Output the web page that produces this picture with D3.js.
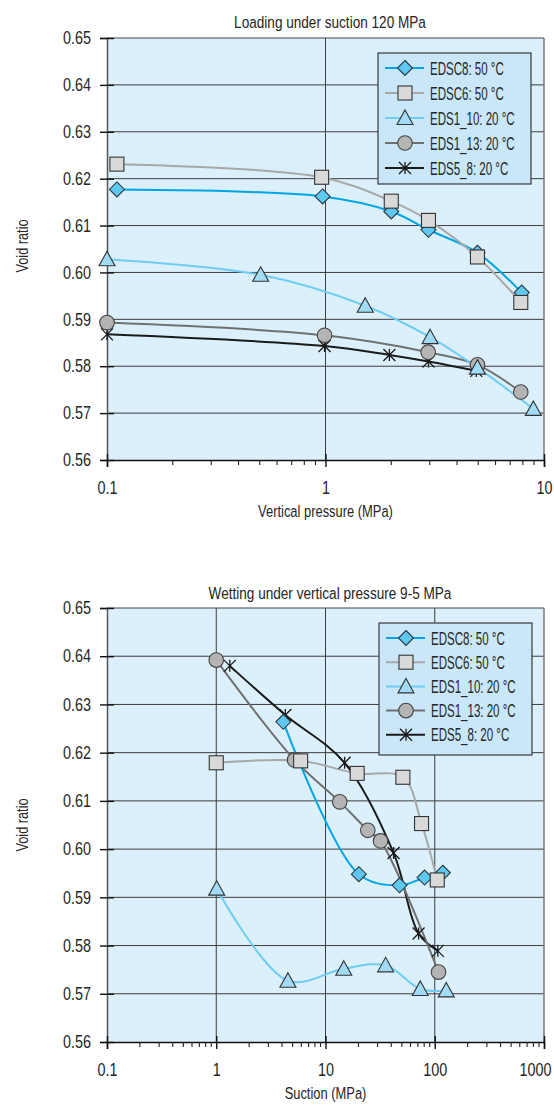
<!DOCTYPE html>
<html>
<head>
<meta charset="utf-8">
<script src="https://cdn.jsdelivr.net/npm/d3@7"></script>
<style>
  body { margin: 0; background: #fff; }
  svg { display: block; font-family: "Liberation Sans", Arimo, Arial, sans-serif; }
</style>
</head>
<body>
<svg id="chart" width="554" height="1108"></svg>
<script>
// ---- data ----
const seriesNames = ['EDSC8: 50 °C', 'EDSC6: 50 °C', 'EDS1_10: 20 °C', 'EDS1_13: 20 °C', 'EDS5_8: 20 °C'];
const yTicks = [0.56, 0.57, 0.58, 0.59, 0.60, 0.61, 0.62, 0.63, 0.64, 0.65];

// loading under suction 120 MPa (x = vertical pressure, MPa)
const loadEDSC8_p = [0.111, 0.97, 2.0, 2.96, 4.96, 7.91];
const loadEDSC8_e = [0.6177, 0.6162, 0.6130, 0.6091, 0.6042, 0.5957];
const loadEDSC6_p = [0.111, 0.96, 2.0, 2.96, 4.96, 7.83];
const loadEDSC6_e = [0.6231, 0.6203, 0.6152, 0.6111, 0.6033, 0.5936];
const loadEDS1_10_p = [0.1, 0.505, 1.52, 3.01, 4.96, 8.94];
const loadEDS1_10_e = [0.6028, 0.5995, 0.5929, 0.5862, 0.5797, 0.5709];
const loadEDS1_13_p = [0.1, 0.99, 2.95, 4.96, 7.83];
const loadEDS1_13_e = [0.5893, 0.5866, 0.5830, 0.5803, 0.5745];
const loadEDS5_8_p = [0.1, 0.99, 1.96, 2.96, 4.9];
const loadEDS5_8_e = [0.5868, 0.5843, 0.5824, 0.5810, 0.5790];
const loadXTicks = ['0.1', '1', '10'];

// wetting under vertical pressure 9-5 MPa (x = suction, MPa)
const wetEDSC8_s = [4.11, 20.2, 47.6, 80.7, 118.6];
const wetEDSC8_e = [0.6264, 0.5948, 0.5925, 0.5941, 0.5951];
const wetEDSC6_s = [1.0, 5.92, 19.5, 51.1, 75.7, 105.4];
const wetEDSC6_e = [0.6179, 0.6183, 0.6157, 0.6149, 0.6053, 0.5936];
const wetEDS1_10_s = [1.01, 4.53, 14.7, 35.5, 73.7, 127.4];
const wetEDS1_10_e = [0.5918, 0.5727, 0.5752, 0.5759, 0.5710, 0.5707];
const wetEDS1_13_s = [1.0, 5.21, 13.5, 24.4, 31.9, 108.3];
const wetEDS1_13_e = [0.6392, 0.6185, 0.6098, 0.6039, 0.6017, 0.5745];
const wetEDS5_8_s = [1.33, 4.29, 14.96, 42, 71.1, 106.7];
const wetEDS5_8_e = [0.6380, 0.6278, 0.6179, 0.5992, 0.5825, 0.5789];
const wetXTicks = ['0.1', '1', '10', '100', '1000'];

// ---- styles ----
const styles = [
  { line: '#00a6e6', fill: '#5fc8f0', marker: 'diamond' },
  { line: '#a8a8a8', fill: '#d9d9d9', marker: 'square' },
  { line: '#6dcdf2', fill: '#a2dbf5', marker: 'triangle' },
  { line: '#707070', fill: '#b4b4b4', marker: 'circle' },
  { line: '#1a1a1a', fill: 'none', marker: 'star' },
];
const drawOrder = [4, 3, 2, 0, 1]; // which series ends up on top
const textColor = '#262626';

const svg = d3.select('#chart');

function zip(xs, ys) { return xs.map((x, i) => ({ x, y: ys[i] })); }

// no condensed face installed, so squeeze a normal one horizontally
function narrowText(parent, x, y, str, size, sx, anchor, rotate) {
  const t = parent.append('g')
    .attr('transform', `translate(${x},${y})${rotate ? ' rotate(' + rotate + ')' : ''} scale(${sx},1)`);
  t.append('text').attr('text-anchor', anchor || 'start')
    .attr('font-size', size).attr('fill', textColor).text(str);
  return t;
}

function drawMarker(g, type, cx, cy, st) {
  const s = 7.5;
  if (type === 'diamond') {
    g.append('path').attr('d', `M${cx},${cy - s}L${cx + s},${cy}L${cx},${cy + s}L${cx - s},${cy}Z`)
      .attr('fill', st.fill).attr('stroke', '#2a3a44').attr('stroke-width', 1.1);
  } else if (type === 'square') {
    g.append('rect').attr('x', cx - 7).attr('y', cy - 7).attr('width', 14).attr('height', 14)
      .attr('fill', st.fill).attr('stroke', '#333').attr('stroke-width', 1.1);
  } else if (type === 'triangle') {
    g.append('path').attr('d', `M${cx},${cy - 8}L${cx + 8},${cy + 6.5}L${cx - 8},${cy + 6.5}Z`)
      .attr('fill', st.fill).attr('stroke', '#333').attr('stroke-width', 1.1);
  } else if (type === 'circle') {
    g.append('circle').attr('cx', cx).attr('cy', cy).attr('r', 7.3)
      .attr('fill', st.fill).attr('stroke', '#444').attr('stroke-width', 1.1);
  } else {
    const a = 6;
    g.append('path')
      .attr('d', `M${cx},${cy - a}L${cx},${cy + a}M${cx - a},${cy - a}L${cx + a},${cy + a}M${cx + a},${cy - a}L${cx - a},${cy + a}`)
      .attr('stroke', '#1a1a1a').attr('stroke-width', 1.3).attr('fill', 'none');
  }
}

function drawChart(cfg) {
  const x = d3.scaleLog().domain(cfg.xDomain).range([cfg.left, cfg.right]);
  const y = d3.scaleLinear().domain([0.56, 0.65]).range([cfg.bottom, cfg.top]);
  const g = svg.append('g');

  // plot area
  g.append('rect').attr('x', cfg.left).attr('y', cfg.top)
    .attr('width', cfg.right - cfg.left).attr('height', cfg.bottom - cfg.top)
    .attr('fill', '#dcf0fb');

  // grid
  g.append('g').selectAll('line').data(yTicks.slice(1, -1)).join('line')
    .attr('x1', cfg.left).attr('x2', cfg.right)
    .attr('y1', d => y(d)).attr('y2', d => y(d))
    .attr('stroke', '#3c3c3c').attr('stroke-width', 1);
  const decades = cfg.xTickLabels.map(Number);
  g.append('g').selectAll('line').data(decades.slice(1, -1)).join('line')
    .attr('x1', d => x(d)).attr('x2', d => x(d))
    .attr('y1', cfg.top).attr('y2', cfg.bottom)
    .attr('stroke', '#3c3c3c').attr('stroke-width', 1);

  // frame
  g.append('line').attr('x1', cfg.left).attr('x2', cfg.right).attr('y1', cfg.top).attr('y2', cfg.top)
    .attr('stroke', '#444').attr('stroke-width', 1.2);
  g.append('line').attr('x1', cfg.right).attr('x2', cfg.right).attr('y1', cfg.top).attr('y2', cfg.bottom)
    .attr('stroke', '#777').attr('stroke-width', 1.5);

  // y axis
  const tickSx = 0.8;
  const yAxis = g.append('g').attr('transform', `translate(${cfg.left},0)`)
    .call(d3.axisLeft(y).tickValues(yTicks).tickFormat(d3.format('.2f')).tickSize(7).tickPadding(9));
  yAxis.select('.domain').attr('stroke', '#555').attr('stroke-width', 1.5);
  yAxis.selectAll('.tick line').attr('x2', 7).attr('x1', -7).attr('stroke', '#111').attr('stroke-width', 1.4);
  yAxis.selectAll('.tick text').attr('font-size', 18).attr('fill', textColor)
    .attr('x', -16 / tickSx).attr('transform', `scale(${tickSx},1)`);

  // x axis
  const minor = [];
  decades.slice(0, -1).forEach(d => { for (let k = 2; k <= 9; k++) minor.push(d * k); });
  const xAxis = g.append('g').attr('transform', `translate(0,${cfg.bottom})`)
    .call(d3.axisBottom(x).tickValues(decades).tickFormat((d, i) => cfg.xTickLabels[i]).tickSize(7).tickPadding(14));
  xAxis.select('.domain').attr('stroke', '#111').attr('stroke-width', 1.5);
  xAxis.selectAll('.tick line').attr('y1', -6).attr('stroke', '#111').attr('stroke-width', 1.4);
  // the last wide label would run past the page edge; nudge it left
  xAxis.selectAll('.tick text').attr('font-size', 18).attr('fill', textColor)
    .attr('transform', `scale(${tickSx},1)`)
    .attr('x', (d, i, n) => (i === n.length - 1 && cfg.xTickLabels.length > 3) ? -9 / tickSx : 0);
  xAxis.append('g').selectAll('line').data(minor).join('line')
    .attr('x1', d => x(d)).attr('x2', d => x(d)).attr('y1', 0).attr('y2', 5)
    .attr('stroke', '#222').attr('stroke-width', 1.1);

  // titles
  narrowText(g, cfg.titleX, cfg.titleY, cfg.title, 17, 0.8, 'middle');
  narrowText(g, (cfg.left + cfg.right) / 2, cfg.bottom + 57, cfg.xTitle, 17, 0.76, 'middle');
  narrowText(g, 28, cfg.yTitleY, 'Void ratio', 17, 0.75, 'middle', -90);

  // series
  const line = d3.line().x(d => x(d.x)).y(d => y(d.y)).curve(d3.curveCatmullRom.alpha(0.5));
  const plot = g.append('g');
  drawOrder.forEach(i => {
    plot.append('path').datum(cfg.series[i]).attr('d', line)
      .attr('fill', 'none').attr('stroke', styles[i].line).attr('stroke-width', 2);
  });
  drawOrder.forEach(i => {
    const mg = plot.append('g');
    cfg.series[i].forEach(p => drawMarker(mg, styles[i].marker, x(p.x), y(p.y), styles[i]));
  });

  // legend
  const lg = g.append('g');
  lg.append('rect').attr('x', cfg.legX).attr('y', cfg.legY).attr('width', 153).attr('height', cfg.legH)
    .attr('fill', '#c9e7f8').attr('stroke', '#3a3a3a').attr('stroke-width', 1.2);
  seriesNames.forEach((name, i) => {
    const ry = cfg.legY + 15 + i * cfg.legStep;
    lg.append('line').attr('x1', cfg.legX + 7).attr('x2', cfg.legX + 46).attr('y1', ry).attr('y2', ry)
      .attr('stroke', styles[i].line).attr('stroke-width', 2);
    drawMarker(lg, styles[i].marker, cfg.legX + 27, ry, styles[i]);
    narrowText(lg, cfg.legX + 52, ry + 6.5, name, 18, 0.64);
  });
}

drawChart({
  left: 107, right: 544, top: 38, bottom: 460,
  xDomain: [0.1, 10], xTickLabels: loadXTicks,
  title: 'Loading under suction 120 MPa', titleX: 330, titleY: 28,
  xTitle: 'Vertical pressure (MPa)', yTitleY: 246,
  legX: 378, legY: 53, legH: 131, legStep: 25,
  series: [zip(loadEDSC8_p, loadEDSC8_e), zip(loadEDSC6_p, loadEDSC6_e), zip(loadEDS1_10_p, loadEDS1_10_e),
           zip(loadEDS1_13_p, loadEDS1_13_e), zip(loadEDS5_8_p, loadEDS5_8_e)]
});

drawChart({
  left: 107, right: 544, top: 608, bottom: 1042,
  xDomain: [0.1, 1000], xTickLabels: wetXTicks,
  title: 'Wetting under vertical pressure 9-5 MPa', titleX: 330, titleY: 599,
  xTitle: 'Suction (MPa)', yTitleY: 825,
  legX: 379, legY: 623, legH: 132, legStep: 24.2,
  series: [zip(wetEDSC8_s, wetEDSC8_e), zip(wetEDSC6_s, wetEDSC6_e), zip(wetEDS1_10_s, wetEDS1_10_e),
           zip(wetEDS1_13_s, wetEDS1_13_e), zip(wetEDS5_8_s, wetEDS5_8_e)]
});
</script>
</body>
</html>
